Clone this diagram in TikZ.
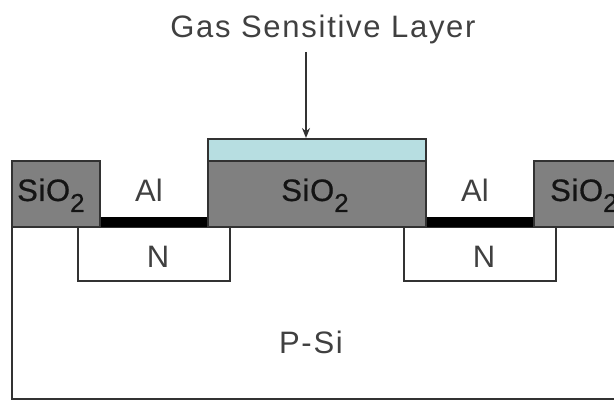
\documentclass[tikz,border=0pt]{standalone}
\usepackage{fontspec}
\setmainfont{Liberation Sans}
\usetikzlibrary{arrows.meta}
\definecolor{oxide}{RGB}{128,128,128}
\definecolor{sens}{RGB}{183,222,225}
\definecolor{edge}{RGB}{50,50,50}
\newfontfamily\spaced[LetterSpace=5.6]{Liberation Sans}
\newfontfamily\oxfont[LetterSpace=2,FakeBold=0.6]{Liberation Sans}
\newcommand{\oxtext}{SiO\raisebox{-11pt}{\fontsize{26}{28}\selectfont 2}}
\tikzset{
  px/.style={x=1pt,y=-1pt},
  region/.style={draw=edge,line width=1.5pt},
  lab/.style={font=\fontsize{31}{34}\selectfont,text=black!75,inner sep=0pt},
  splab/.style={font=\spaced\fontsize{31}{34}\selectfont,text=black!75,inner sep=0pt},
  oxlab/.style={font=\oxfont\fontsize{31}{34}\selectfont,text=black!92,inner sep=0pt},
}
\begin{document}
\begin{tikzpicture}[px]
\useasboundingbox (0,0) rectangle (614,401);
\begin{scope}
\clip (0,0) rectangle (614,401);
% P substrate (open at right)
\draw[region] (12,227) -- (12,399) -- (614,399);
\draw[region] (12,227) -- (614,227);
% N wells
\draw[region,fill=white] (78,227) rectangle (230,281);
\draw[region,fill=white] (404,227) rectangle (556,281);
% Al
\fill[black] (100,217) rectangle (208,227);
\fill[black] (426,217) rectangle (534,227);
% oxide
\draw[region,fill=oxide] (12,161) rectangle (100,227);
\draw[region,fill=oxide] (208,161) rectangle (426,227);
\draw[region,fill=oxide] (534,161) rectangle (640,227);
% sensitive layer
\draw[region,fill=sens] (208,139) rectangle (426,161);
\node[splab,anchor=base] (gas) at (323,38) {Gas Sensitive Layer};
\node[oxlab,anchor=base west] (ox1) at (17,201) {\oxtext};
\node[oxlab,anchor=base] (ox2) at (315,201) {\oxtext};
\node[oxlab,anchor=base west] (ox3) at (550,201) {\oxtext};
\node[lab,anchor=base] (al1) at (149,202) {Al};
\node[lab,anchor=base] (al2) at (475,202) {Al};
\node[lab,anchor=base] (n1) at (158,268) {N};
\node[lab,anchor=base] (n2) at (484,268) {N};
\node[splab,anchor=base] (psi) at (311,353) {P-Si};
\coordinate (arrowstart) at (306,52);
\coordinate (arrowend) at (306,138);
\draw[line width=1.5pt,draw=edge,-{Stealth[length=10pt,width=8pt]}] (arrowstart) -- (arrowend);
\end{scope}
\end{tikzpicture}
\end{document}
